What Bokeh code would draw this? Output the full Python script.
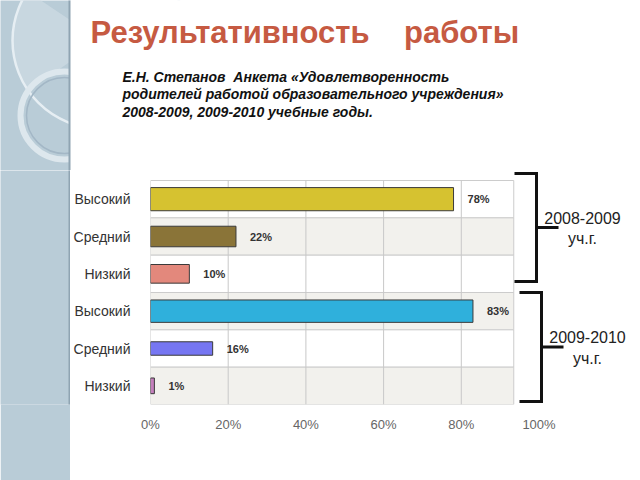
from bokeh.plotting import figure
from bokeh.layouts import column, row
from bokeh.models import Range1d, FixedTicker, Label, Arrow
from bokeh.core.properties import value
from bokeh.embed import file_html
from bokeh.resources import INLINE

# ---------------- data ----------------
title_text = "Результативность\u00a0\u00a0\u00a0 работы"
subtitle_lines = [
    "Е.Н. Степанов\u00a0 Анкета «Удовлетворенность",
    "родителей работой образовательного учреждения»",
    "2008-2009, 2009-2010 учебные годы.",
]
years = ["2008-2009", "2009-2010"]
year_suffix = "уч.г."
levels = ["Высокий", "Средний", "Низкий"]
values_2008_2009 = [78, 22, 10]
values_2009_2010 = [83, 16, 1]
x_ticks = [0, 20, 40, 60, 80, 100]
x_tick_labels = ["0%", "20%", "40%", "60%", "80%", "100%"]

# ---------------- styles ----------------
bar_colors = ["#d6c230", "#8a7438", "#e3887c", "#2fb0dc", "#7676f2", "#c47fbc"]
bar_heights = [0.62, 0.55, 0.5, 0.6, 0.36, 0.42]
band_colors = ["#ffffff", "#f2f1ed"] * 3
STRIP = "#b9ccd7"
STRIP_EDGE = "#8fa4b2"
FONT = "Liberation Sans"

# rows, top -> bottom
vals, lvl_names = [], []
for vs in [values_2008_2009, values_2009_2010]:
    for lv, v in zip(levels, vs):
        vals.append(v)
        lvl_names.append(lv)
n_rows = len(vals)
ys = [n_rows - 1 - i for i in range(n_rows)]

# ---------------- geometry (page pixels) ----------------
PAGE_W, PAGE_H = 640, 480
STRIP_R = 70
HEAD_BOTTOM = 170
FL, FB = 149, 404     # chart frame left / bottom
PLOT_RIGHT = 513
ROWS_TOP = 180
BAND_END = 93.5       # plot area width in %
PX_PCT = (PLOT_RIGHT - FL) / BAND_END
ROW_PX = (FB - ROWS_TOP) / n_rows

# ---------------- header figure ----------------
head = figure(width=PAGE_W, height=HEAD_BOTTOM, output_backend="svg", toolbar_location=None,
              x_range=Range1d(0, PAGE_W), y_range=Range1d(HEAD_BOTTOM, 0),
              min_border=0, x_axis_type=None, y_axis_type=None)
head.outline_line_color = None
head.grid.visible = False
head.quad(left=-5, right=STRIP_R, top=-5, bottom=HEAD_BOTTOM + 5, fill_color=STRIP, line_color=None)
head.wedge(x=[100], y=[40], radius=88, start_angle=2.55, end_angle=3.75, fill_color="#cfdce4",
           fill_alpha=0.7, line_color=None)
head.circle(x=[100], y=[40], radius=88, fill_color=None, line_color="#e6eef3", line_width=2.5)
head.circle(x=[64], y=[115], radius=44, fill_color=None, line_color="#dde7ed", line_width=6)
head.circle(x=[64], y=[115], radius=38, fill_color=None, line_color="#a3b7c6", line_width=1.5)
head.quad(left=STRIP_R - 1, right=PAGE_W + 5, top=-5, bottom=HEAD_BOTTOM + 5, fill_color="white",
          line_color=None)
head.segment(x0=[STRIP_R - 1], y0=[-5], x1=[STRIP_R - 1], y1=[HEAD_BOTTOM + 5],
             line_color=STRIP_EDGE, line_width=2)
head.add_layout(Label(x=90, y=32, text=title_text, text_font=FONT, text_font_style="bold",
                      text_font_size="31px", text_color="#c65a42",
                      text_align="left", text_baseline="middle"))
for i, line in enumerate(subtitle_lines):
    head.add_layout(Label(x=122, y=76 + 17.5 * i, text=line, text_font=FONT,
                          text_font_style="bold italic", text_font_size="14px",
                          text_color="#111111", text_align="left", text_baseline="middle"))

# ---------------- strip figure ----------------
strip = figure(width=STRIP_R, height=PAGE_H - HEAD_BOTTOM, output_backend="svg",
               toolbar_location=None, x_range=Range1d(0, STRIP_R),
               y_range=Range1d(PAGE_H, HEAD_BOTTOM),
               min_border=0, x_axis_type=None, y_axis_type=None)
strip.outline_line_color = None
strip.grid.visible = False
strip.background_fill_color = STRIP
strip.border_fill_color = STRIP
strip.segment(x0=[STRIP_R - 1], y0=[HEAD_BOTTOM - 5], x1=[STRIP_R - 1], y1=[PAGE_H + 5],
              line_color=STRIP_EDGE, line_width=2)

# ---------------- chart figure ----------------
p = figure(width=PAGE_W - STRIP_R, height=PAGE_H - HEAD_BOTTOM, output_backend="svg",
           toolbar_location=None,
           x_range=Range1d(0, (PAGE_W - FL) / PX_PCT),
           y_range=Range1d(-0.5, n_rows - 0.5 + (ROWS_TOP - HEAD_BOTTOM) / ROW_PX),
           min_border_left=FL - STRIP_R, min_border_right=0, min_border_top=0,
           min_border_bottom=PAGE_H - FB)
p.outline_line_color = None
p.background_fill_color = "white"
p.border_fill_color = "white"
p.grid.visible = False

# row bands
p.hbar(y=ys, left=0, right=BAND_END, height=1, fill_color=band_colors,
       line_color="#cccccc", line_width=1)
# vertical grid lines at the inner ticks
inner = [t for t in x_ticks if 0 < t < BAND_END]
p.segment(x0=inner, y0=[-0.5] * len(inner), x1=inner, y1=[n_rows - 0.5] * len(inner),
          line_color="#c8c8c8", line_width=1)

# bars
p.hbar(y=ys, right=vals, left=0, height=bar_heights, fill_color=bar_colors,
       line_color="#3a3a3a", line_width=1)

# value labels
p.text(x=vals, y=ys, text=[f"{v}%" for v in vals], x_offset=14,
       text_font=value(FONT), text_font_style="bold", text_font_size="11px",
       text_color="#333333", text_align="left", text_baseline="middle")

# axes
p.xaxis.ticker = FixedTicker(ticks=x_ticks)
p.xaxis.major_label_overrides = {t: s for t, s in zip(x_ticks, x_tick_labels)}
p.xaxis.axis_line_color = None
p.xaxis.major_tick_line_color = None
p.xaxis.minor_tick_line_color = None
p.xaxis.major_label_standoff = 6
p.xaxis.major_label_text_font = FONT
p.xaxis.major_label_text_font_size = "13px"
p.xaxis.major_label_text_color = "#666666"

p.yaxis.ticker = FixedTicker(ticks=ys)
p.yaxis.major_label_overrides = {y: n for y, n in zip(ys, lvl_names)}
p.yaxis.axis_line_color = None
p.yaxis.major_tick_line_color = None
p.yaxis.minor_tick_line_color = None
p.yaxis.major_label_standoff = 14
p.yaxis.major_label_text_font = FONT
p.yaxis.major_label_text_font_size = "14px"
p.yaxis.major_label_text_color = "#333333"

# brackets (screen units relative to the chart frame)
def sx(px):
    return px - FL

def sy(py):
    return FB - py

def seg(x0, y0, x1, y1):
    p.add_layout(Arrow(end=None, x_start=sx(x0), y_start=sy(y0), x_end=sx(x1), y_end=sy(y1),
                       start_units="screen", end_units="screen",
                       line_color="#111111", line_width=3))

brackets = [(513, 535, 173, 281, 557), (518, 540, 292, 401, 562)]
for (xl, xv, yt, yb, xm), yr in zip(brackets, years):
    seg(xl, yt, xv + 1.5, yt)
    seg(xv, yt, xv, yb)
    seg(xl, yb, xv + 1.5, yb)
    ym = (yt + yb) / 2
    seg(xv, ym, xm, ym)
    p.add_layout(Label(x=sx(xm + 24), y=sy(ym - 10), x_units="screen", y_units="screen",
                       text=yr, text_font=FONT, text_font_size="16px", text_color="#222222",
                       text_align="center", text_baseline="middle"))
    p.add_layout(Label(x=sx(xm + 24), y=sy(ym + 11), x_units="screen", y_units="screen",
                       text=year_suffix, text_font=FONT, text_font_size="16px",
                       text_color="#222222", text_align="center", text_baseline="middle"))

layout = column(head, row(strip, p, spacing=0), spacing=0)
open("out.html", "w").write(file_html(layout, INLINE))
